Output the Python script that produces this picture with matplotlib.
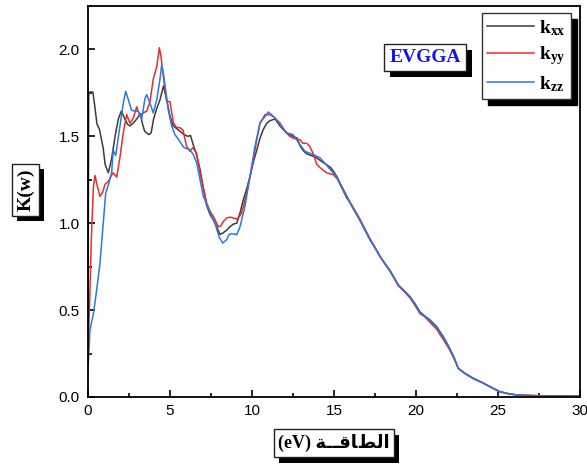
import matplotlib
matplotlib.use("Agg")
import matplotlib.pyplot as plt
from matplotlib.patches import Rectangle
from matplotlib.ticker import MultipleLocator, FormatStrFormatter

# ---- data: extinction coefficient components vs photon energy (eV) ----
e_xx = [0, 0.04, 0.1, 0.3, 0.43, 0.55, 0.7, 0.93, 1.04, 1.24, 1.44, 1.65, 1.85, 2.03, 2.2, 2.4,
        2.56, 2.8, 2.97, 3.2, 3.3, 3.45, 3.7, 3.85, 4.0, 4.19, 4.39, 4.6, 4.8, 5.0, 5.2, 5.4,
        5.6, 5.85, 6.1, 6.25, 6.42, 6.6, 6.83, 7.04, 7.24, 7.44, 7.64, 7.85, 8.05, 8.25, 8.45,
        8.66, 8.86, 9.07, 9.27, 9.47, 9.68, 9.88, 10.08, 10.29, 10.49, 10.69, 10.9, 11.1, 11.4,
        11.7, 12.1, 12.5, 12.75, 12.93, 13.15, 13.33, 13.6, 13.94, 14.25, 14.55, 14.8, 14.96,
        15.2, 15.37, 15.7, 15.98, 16.3, 16.6, 16.9, 17.2, 17.5, 17.8, 18.1, 18.4, 18.65, 18.92,
        19.3, 19.63, 19.95, 20.24, 20.55, 20.85, 21.05, 21.26, 21.46, 21.67, 22.0, 22.3, 22.58,
        23.0, 23.5, 24.0, 24.5, 25.1, 25.6, 26.1, 27.0, 28.0, 29.0, 30.0]
k_xx = [0.25, 1.74, 1.755, 1.755, 1.66, 1.57, 1.54, 1.43, 1.34, 1.29, 1.37, 1.50, 1.60, 1.645,
        1.61, 1.57, 1.56, 1.58, 1.60, 1.63, 1.58, 1.53, 1.51, 1.52, 1.60, 1.66, 1.71, 1.79, 1.71,
        1.615, 1.56, 1.545, 1.53, 1.51, 1.50, 1.505, 1.45, 1.40, 1.31, 1.20, 1.10, 1.05, 1.02,
        0.98, 0.935, 0.945, 0.96, 0.98, 0.995, 1.0, 1.06, 1.135, 1.20, 1.27, 1.35, 1.42, 1.49,
        1.54, 1.575, 1.59, 1.60, 1.56, 1.52, 1.50, 1.49, 1.445, 1.415, 1.40, 1.39, 1.376, 1.355,
        1.337, 1.32, 1.30, 1.265, 1.23, 1.17, 1.12, 1.065, 1.015, 0.96, 0.905, 0.86, 0.81, 0.77,
        0.73, 0.69, 0.645, 0.61, 0.578, 0.535, 0.49, 0.465, 0.444, 0.425, 0.405, 0.376, 0.347,
        0.29, 0.232, 0.165, 0.135, 0.108, 0.085, 0.06, 0.03, 0.02, 0.012, 0.008, 0.006, 0.005,
        0.005]

e_yy = [0, 0.1, 0.2, 0.33, 0.43, 0.55, 0.73, 0.9, 1.04, 1.24, 1.4, 1.54, 1.75, 1.95, 2.15, 2.36,
        2.56, 2.76, 2.97, 3.17, 3.37, 3.58, 3.78, 3.98, 4.19, 4.35, 4.45, 4.59, 4.8, 5.0, 5.2,
        5.41, 5.61, 5.8, 6.0, 6.2, 6.4, 6.63, 6.83, 7.04, 7.24, 7.44, 7.64, 7.95, 8.1, 8.25,
        8.45, 8.66, 8.86, 9.07, 9.25, 9.37, 9.67, 9.88, 10.08, 10.29, 10.49, 10.8, 11.1, 11.4,
        11.7, 12.1, 12.3, 12.5, 12.93, 13.1, 13.33, 13.5, 13.74, 13.94, 14.15, 14.55, 14.96,
        15.2, 15.37, 15.77, 15.98, 16.3, 16.6, 16.9, 17.2, 17.5, 17.8, 18.1, 18.4, 18.65, 18.92,
        19.3, 19.63, 19.95, 20.24, 20.55, 20.85, 21.05, 21.26, 21.46, 21.67, 22.0, 22.3, 22.58,
        23.0, 23.5, 24.0, 24.5, 25.1, 25.6, 26.1, 27.0, 28.0, 29.0, 30.0]
k_yy = [0.25, 0.55, 0.9, 1.21, 1.275, 1.22, 1.155, 1.18, 1.225, 1.24, 1.27, 1.29, 1.265, 1.38,
        1.52, 1.625, 1.575, 1.605, 1.67, 1.615, 1.635, 1.645, 1.70, 1.83, 1.90, 2.01, 1.96,
        1.846, 1.70, 1.70, 1.58, 1.55, 1.55, 1.535, 1.445, 1.415, 1.435, 1.40, 1.29, 1.20,
        1.115, 1.07, 1.04, 0.98, 0.985, 1.01, 1.03, 1.035, 1.03, 1.024, 1.04, 1.06, 1.17, 1.27,
        1.366, 1.48, 1.577, 1.625, 1.625, 1.606, 1.577, 1.52, 1.50, 1.49, 1.48, 1.46, 1.46,
        1.445, 1.40, 1.34, 1.32, 1.29, 1.28, 1.255, 1.225, 1.145, 1.12, 1.07, 1.02, 0.965, 0.91,
        0.86, 0.81, 0.765, 0.725, 0.685, 0.64, 0.605, 0.57, 0.525, 0.48, 0.46, 0.43, 0.41, 0.39,
        0.36, 0.33, 0.28, 0.225, 0.165, 0.135, 0.105, 0.085, 0.06, 0.032, 0.02, 0.013, 0.009,
        0.007, 0.006, 0.006]

e_zz = [0, 0.12, 0.33, 0.53, 0.73, 0.93, 1.08, 1.24, 1.44, 1.54, 1.69, 1.95, 2.15, 2.3, 2.46,
        2.66, 2.87, 3.07, 3.27, 3.48, 3.58, 3.78, 3.98, 4.19, 4.39, 4.49, 4.6, 4.7, 4.9, 5.1,
        5.3, 5.61, 5.81, 5.91, 6.2, 6.42, 6.63, 7.03, 7.44, 7.74, 8.0, 8.21, 8.45, 8.6, 8.76,
        9.07, 9.27, 9.57, 9.88, 10.18, 10.49, 10.8, 11.0, 11.3, 11.7, 12.1, 12.5, 12.93, 13.23,
        13.74, 14.15, 14.45, 14.76, 15.16, 15.37, 15.7, 15.98, 16.3, 16.6, 16.9, 17.2, 17.5,
        17.8, 18.1, 18.4, 18.65, 18.92, 19.3, 19.63, 19.95, 20.24, 20.55, 20.85, 21.05, 21.26,
        21.46, 21.67, 22.0, 22.3, 22.58, 23.0, 23.5, 24.0, 24.5, 25.1, 25.6, 26.1, 27.0, 28.0,
        29.0, 30.0]
k_zz = [0.155, 0.386, 0.48, 0.617, 0.77, 1.0, 1.174, 1.22, 1.29, 1.42, 1.39, 1.56, 1.69, 1.76,
        1.71, 1.65, 1.645, 1.645, 1.60, 1.72, 1.74, 1.69, 1.635, 1.71, 1.83, 1.91, 1.86, 1.79,
        1.65, 1.56, 1.51, 1.47, 1.44, 1.433, 1.424, 1.395, 1.347, 1.155, 1.06, 1.0, 0.92, 0.886,
        0.905, 0.935, 0.94, 0.934, 0.98, 1.097, 1.27, 1.443, 1.577, 1.615, 1.64, 1.615, 1.567,
        1.52, 1.51, 1.452, 1.414, 1.395, 1.376, 1.345, 1.31, 1.27, 1.225, 1.165, 1.115, 1.062,
        1.012, 0.958, 0.903, 0.858, 0.808, 0.768, 0.728, 0.688, 0.643, 0.608, 0.575, 0.532,
        0.488, 0.462, 0.44, 0.42, 0.4, 0.372, 0.343, 0.287, 0.23, 0.163, 0.133, 0.106, 0.084,
        0.059, 0.03, 0.019, 0.012, 0.008, 0.006, 0.005, 0.005]

series_labels = [r"$\mathrm{k_{xx}}$", r"$\mathrm{k_{yy}}$", r"$\mathrm{k_{zz}}$"]
series_colors = ["#3c3c3c", "#ee2b2b", "#2a78e0"]
x_ticks = [0, 5, 10, 15, 20, 25, 30]
y_ticks = [0.0, 0.5, 1.0, 1.5, 2.0]

plt.rcParams["mathtext.fontset"] = "custom"
plt.rcParams["mathtext.rm"] = "Liberation Serif:bold"
plt.rcParams["mathtext.it"] = "Liberation Serif:bold"
plt.rcParams["mathtext.bf"] = "Liberation Serif:bold"

W, H = 587, 466
fig = plt.figure(figsize=(W / 100, H / 100), dpi=100)
ax = fig.add_axes([88 / W, 1 - 397 / H, (580 - 88) / W, (397 - 6) / H])

for e, k, lab, col in zip([e_xx, e_yy, e_zz], [k_xx, k_yy, k_zz], series_labels, series_colors):
    ax.plot(e, k, color=col, lw=1.1, label=lab)

ax.set_xlim(0, 30)
ax.set_ylim(0, 2.25)
ax.set_xticks(x_ticks)
ax.set_yticks(y_ticks)
ax.xaxis.set_minor_locator(MultipleLocator(2.5))
ax.yaxis.set_minor_locator(MultipleLocator(0.25))
ax.yaxis.set_major_formatter(FormatStrFormatter("%.1f"))
ax.tick_params(which="both", direction="in", top=False, right=False, width=1.2,
               labelsize=11)
ax.tick_params(which="major", length=5)
ax.tick_params(which="minor", length=3)
ax.tick_params(axis="y", pad=6)
ax.tick_params(axis="x", pad=5)
for lbl in ax.get_xticklabels() + ax.get_yticklabels():
    lbl.set_fontfamily("Liberation Sans")
for sp in ax.spines.values():
    sp.set_linewidth(1.3)

# legend with a solid drop shadow
leg = ax.legend(loc="upper left", bbox_to_anchor=(482 / W, 1 - 13 / H),
                bbox_transform=fig.transFigure, borderaxespad=0, fancybox=False,
                framealpha=1, edgecolor="#333333", fontsize=14, handlelength=2.4,
                handletextpad=0.3, borderpad=0.25, labelspacing=0.35,
                shadow={"ox": 4.3, "oy": -4.3, "facecolor": "black", "edgecolor": "black",
                        "alpha": 1})
leg.get_frame().set_linewidth(1.0)


def boxed_text(x, y, s, color="black", rotation=0, family=("Liberation Serif",),
               size=14, pad=0.25):
    return fig.text(x, y, s, ha="center", va="center", rotation=rotation, fontsize=size,
                    fontweight="bold", family=list(family), color=color, zorder=5,
                    bbox=dict(boxstyle=f"square,pad={pad}", fc="white", ec="#222222", lw=1))


boxes = [
    (boxed_text(25.5 / W, 1 - 190 / H, "K(w)", rotation=90), (5, -5)),
    (boxed_text(425 / W, 1 - 57.5 / H, "EVGGA", color="#1414f0"), (6, -6)),
    (boxed_text(334 / W, 1 - 443 / H,
                "(eV) \ufe94\u0640\u0640\ufed7\ufe8e\ufec2\ufedf\ufe8d",
                family=("Liberation Serif", "DejaVu Sans"), size=13), (5, -6)),
]

# solid drop shadows behind the boxed labels
fig.canvas.draw()
renderer = fig.canvas.get_renderer()
for txt, (dx, dy) in boxes:
    bb = txt.get_bbox_patch().get_window_extent(renderer)
    fig.patches.append(Rectangle((bb.x0 + dx, bb.y0 + dy), bb.width, bb.height,
                                 transform=None, facecolor="black", edgecolor="none",
                                 zorder=1, figure=fig))

fig.savefig("out.png", dpi=100)
